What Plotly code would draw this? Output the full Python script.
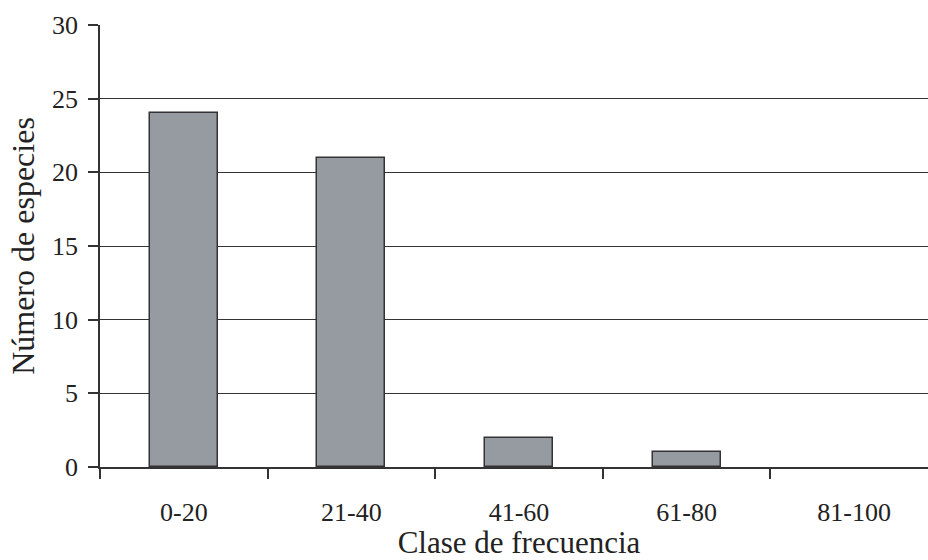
import plotly.graph_objects as go

categories = ["0-20", "21-40", "41-60", "61-80", "81-100"]
species = [24, 21, 2, 1, 0]
y_ticks = [0, 5, 10, 15, 20, 25, 30]

FONT = "Liberation Serif, Times New Roman, serif"

fig = go.Figure(go.Bar(
    x=categories, y=species, width=0.405,
    marker=dict(color="#969aa1",
                line=dict(color="#333333", width=[1.5 if v > 0 else 0 for v in species])),
))

fig.update_layout(
    width=938, height=560,
    margin=dict(l=100, r=0, t=25, b=93),
    plot_bgcolor="white", paper_bgcolor="white",
    font=dict(family=FONT, color="#222222", size=26),
    showlegend=False,
    bargap=0,
)
fig.update_xaxes(
    type="category", tickson="boundaries", ticks="outside", ticklen=10,
    tickcolor="#333333", tickwidth=1.5,
    showline=True, linecolor="#333333", linewidth=1.5,
    showgrid=False, ticklabelstandoff=21,
    tickfont=dict(size=26),
    title=dict(text="Clase de frecuencia", font=dict(size=31), standoff=9),
)
fig.update_yaxes(
    range=[0, 30], tickvals=y_ticks, ticks="outside", ticklen=10,
    tickcolor="#333333", tickwidth=1.5,
    showline=True, linecolor="#333333", linewidth=1.5,
    showgrid=True, gridcolor="#333333", gridwidth=1.2,
    zeroline=False, ticklabelstandoff=5,
    tickfont=dict(size=26),
    title=dict(text="Número de especies", font=dict(size=32), standoff=8),
)

fig.write_html(
    "out.html",
    config={"displayModeBar": False},
    post_script="document.body.style.margin='0';document.body.style.overflow='hidden';",
)
